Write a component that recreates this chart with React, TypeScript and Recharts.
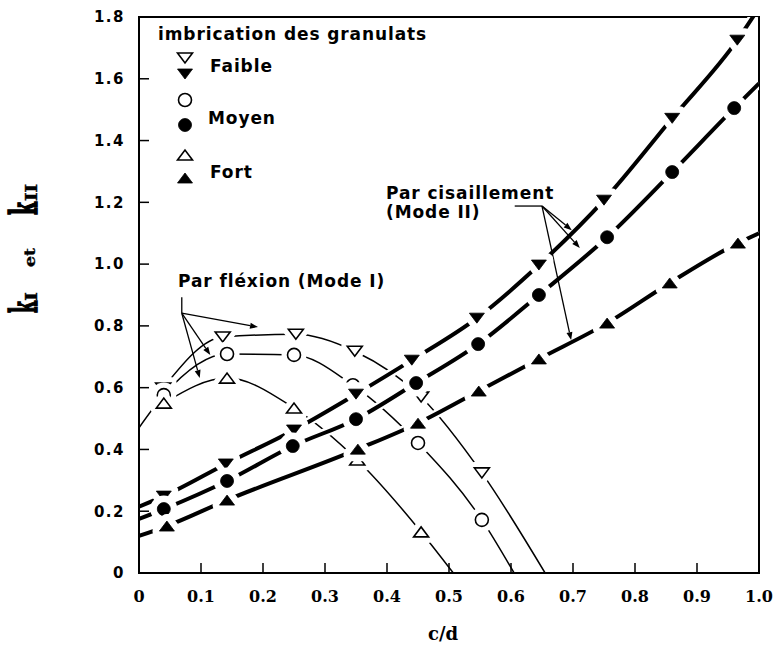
import React from "react";
import {
  ComposedChart,
  Line,
  XAxis,
  YAxis,
  ReferenceArea,
  ReferenceLine,
} from "recharts";

const xTicks = [0, 0.1, 0.2, 0.3, 0.4, 0.5, 0.6, 0.7, 0.8, 0.9, 1.0];
const yTicks = [0, 0.2, 0.4, 0.6, 0.8, 1.0, 1.2, 1.4, 1.6, 1.8];

// Mode II (par cisaillement), filled markers
const faibleIIx = [0.04, 0.14, 0.25, 0.35, 0.44, 0.545, 0.645, 0.75, 0.86, 0.965];
const faibleIIy = [0.249, 0.353, 0.463, 0.579, 0.689, 0.825, 0.997, 1.207, 1.472, 1.725];
const moyenIIx = [0.04, 0.142, 0.248, 0.35, 0.447, 0.547, 0.645, 0.755, 0.86, 0.96];
const moyenIIy = [0.207, 0.298, 0.411, 0.498, 0.615, 0.741, 0.9, 1.087, 1.298, 1.505];
const fortIIx = [0.045, 0.142, 0.353, 0.45, 0.548, 0.645, 0.755, 0.856, 0.966];
const fortIIy = [0.152, 0.236, 0.401, 0.485, 0.589, 0.693, 0.809, 0.939, 1.068];

// where the curves start / stop without a marker
const faibleIIends = [[0, 0.215], [1.0, 1.83]];
const moyenIIends = [[0, 0.175], [1.0, 1.585]];
const fortIIends = [[0, 0.12], [1.0, 1.1]];

// Mode I (par fléxion), open markers
const faibleIx = [0.039, 0.135, 0.253, 0.348, 0.455, 0.553];
const faibleIy = [0.599, 0.764, 0.773, 0.718, 0.57, 0.324];
const moyenIx = [0.04, 0.142, 0.25, 0.345, 0.45, 0.553];
const moyenIy = [0.576, 0.709, 0.706, 0.608, 0.421, 0.172];
const fortIx = [0.04, 0.142, 0.25, 0.352, 0.455];
const fortIy = [0.55, 0.631, 0.534, 0.366, 0.133];

const faibleIends = [null, [0.655, 0]];
const moyenIends = [[0, 0.47], [0.605, 0]];
const fortIends = [null, [0.507, 0]];

// annotation arrows (data coords)
const flexionStem = [[0.069, 0.893], [0.069, 0.841]];
const flexionTargets = [[0.192, 0.796], [0.115, 0.706], [0.098, 0.631]];
const shearBar = [[0.606, 1.188], [0.65, 1.188]];
const shearTargets = [[0.698, 1.11], [0.711, 1.052], [0.697, 0.754]];

const SANS = "DejaVu Sans";
const SERIF = "DejaVu Serif";

function series(xs: number[], ys: number[], ends: any[]) {
  const pts = xs.map((x, i) => ({ x, y: ys[i], m: true }));
  const [a, b] = ends;
  return [
    ...(a ? [{ x: a[0], y: a[1], m: false }] : []),
    ...pts,
    ...(b ? [{ x: b[0], y: b[1], m: false }] : []),
  ];
}

const faibleII = series(faibleIIx, faibleIIy, faibleIIends);
const moyenII = series(moyenIIx, moyenIIy, moyenIIends);
const fortII = series(fortIIx, fortIIy, fortIIends);
const faibleI = series(faibleIx, faibleIy, faibleIends);
const moyenI = series(moyenIx, moyenIy, moyenIends);
const fortI = series(fortIx, fortIy, fortIends);

type Kind = "down" | "up" | "circle";

function markerPath(kind: Kind, cx: number, cy: number) {
  if (kind === "circle") {
    const r = 6.5;
    return `M${cx - r},${cy}a${r},${r} 0 1,0 ${2 * r},0a${r},${r} 0 1,0 ${-2 * r},0Z`;
  }
  if (kind === "down") return `M${cx - 7.5},${cy - 5}L${cx + 7.5},${cy - 5}L${cx},${cy + 5}Z`;
  return `M${cx - 7.5},${cy + 5}L${cx + 7.5},${cy + 5}L${cx},${cy - 5}Z`;
}

function Marker({ kind, filled, cx, cy, halo = 0 }: any) {
  const d = markerPath(kind, cx, cy);
  return (
    <g>
      {halo > 0 && (
        <path d={d} fill="#fff" stroke="#fff" strokeWidth={halo} strokeLinejoin="round" />
      )}
      <path
        d={d}
        fill={filled ? "#000" : "#fff"}
        stroke="#000"
        strokeWidth={filled ? 0.8 : 1.6}
      />
    </g>
  );
}

const dotOf = (kind: Kind, filled: boolean, halo: number) => (p: any) =>
  p.payload && p.payload.m ? (
    <Marker key={`d${p.index}`} kind={kind} filled={filled} cx={p.cx} cy={p.cy} halo={halo} />
  ) : (
    <g key={`d${p.index}`} />
  );

const Arrow = (p: any) => {
  const { x1, y1, x2, y2, head } = p;
  const a = Math.atan2(y2 - y1, x2 - x1);
  const L = 8;
  const W = 3;
  const bx = x2 - L * Math.cos(a);
  const by = y2 - L * Math.sin(a);
  return (
    <g>
      <line x1={x1} y1={y1} x2={head ? bx : x2} y2={head ? by : y2} stroke="#000" strokeWidth={1.3} />
      {head && (
        <polygon
          points={`${x2},${y2} ${bx + W * Math.sin(a)},${by - W * Math.cos(a)} ${bx - W * Math.sin(a)},${by + W * Math.cos(a)}`}
          fill="#000"
        />
      )}
    </g>
  );
};

const fmt = (v: number) => (v === 0 ? "0" : v.toFixed(1));

const txt = { fontFamily: SANS, fontWeight: 700, fontSize: 17, letterSpacing: 0.9, fill: "#000" } as const;

function Overlay() {
  return (
    <svg
      width={773}
      height={650}
      style={{ position: "absolute", left: 0, top: 0, pointerEvents: "none" }}
    >
      <text x={158} y={40} {...txt}>imbrication des granulats</text>
      <Marker kind="down" filled={false} cx={185} cy={58} />
      <Marker kind="down" filled cx={185} cy={74} />
      <text x={210} y={72} {...txt}>Faible</text>
      <Marker kind="circle" filled={false} cx={185} cy={100} />
      <Marker kind="circle" filled cx={185} cy={125} />
      <text x={208} y={124} {...txt}>Moyen</text>
      <Marker kind="up" filled={false} cx={185} cy={155} />
      <Marker kind="up" filled cx={185} cy={178} />
      <text x={210} y={178} {...txt}>Fort</text>

      <text x={178} y={287} {...txt}>Par fléxion (Mode I)</text>
      <text x={386} y={199} {...txt}>Par cisaillement</text>
      <text x={386} y={218} {...txt}>(Mode II)</text>

      <g
        transform="translate(37,0) rotate(-90)"
        fontFamily={SERIF}
        fontWeight={700}
        fill="#000"
        stroke="#000"
      >
        <text x={-313} y={0} fontSize={38} strokeWidth={1.6} textLength={12} lengthAdjust="spacingAndGlyphs">k</text>
        <text x={-301} y={0} fontSize={16} strokeWidth={0.4} textLength={9} lengthAdjust="spacingAndGlyphs">I</text>
        <text x={-267} y={-2} fontSize={15} strokeWidth={0.3} textLength={19} lengthAdjust="spacingAndGlyphs">et</text>
        <text x={-215} y={0} fontSize={38} strokeWidth={1.6} textLength={13} lengthAdjust="spacingAndGlyphs">k</text>
        <text x={-201} y={0} fontSize={16} strokeWidth={0.4} textLength={17} lengthAdjust="spacingAndGlyphs">II</text>
      </g>
      <text x={443} y={640} textAnchor="middle" fontFamily={SERIF} fontWeight={700} fontSize={18}>
        c/d
      </text>
    </svg>
  );
}

export default function App() {
  const seg = (a: number[], b: number[]) => [
    { x: a[0], y: a[1] },
    { x: b[0], y: b[1] },
  ];
  return (
    <div style={{ position: "absolute", left: 0, top: 0, width: 773, height: 650, background: "#fff" }}>
      <ComposedChart
        width={773}
        height={650}
        margin={{ top: 17, right: 14, bottom: 37, left: 79 }}
      >
        <XAxis
          type="number"
          dataKey="x"
          domain={[0, 1]}
          ticks={xTicks}
          tickFormatter={fmt}
          allowDataOverflow
          height={40}
          tickSize={-10}
          tickMargin={28}
          axisLine={{ stroke: "#000", strokeWidth: 2 }}
          tickLine={{ stroke: "#000", strokeWidth: 1.5 }}
          tick={{ fill: "#000", fontSize: 16, fontWeight: 700, fontFamily: SERIF }}
        />
        <YAxis
          type="number"
          dataKey="y"
          domain={[0, 1.8]}
          ticks={yTicks}
          tickFormatter={fmt}
          allowDataOverflow
          width={60}
          tickSize={-10}
          tickMargin={24}
          axisLine={{ stroke: "#000", strokeWidth: 2 }}
          tickLine={{ stroke: "#000", strokeWidth: 1.5 }}
          tick={{ fill: "#000", fontSize: 15, fontWeight: 700, fontFamily: SANS, letterSpacing: 1.5 }}
        />
        <ReferenceArea x1={0} x2={1} y1={0} y2={1.8} fill="none" stroke="#000" strokeWidth={2} />

        {[faibleI, moyenI, fortI].map((d, i) => (
          <Line
            key={`m1-${i}`}
            data={d}
            dataKey="y"
            type="monotone"
            stroke="#000"
            strokeWidth={1.5}
            dot={dotOf(i === 0 ? "down" : i === 1 ? "circle" : "up", false, 12)}
            activeDot={false}
            isAnimationActive={false}
          />
        ))}

        {[faibleII, moyenII, fortII].map((d, i) => (
          <Line
            key={`h2-${i}`}
            data={d}
            dataKey="y"
            type="monotone"
            stroke="#fff"
            strokeWidth={9}
            dot={false}
            activeDot={false}
            isAnimationActive={false}
          />
        ))}
        {[faibleII, moyenII, fortII].map((d, i) => (
          <Line
            key={`m2-${i}`}
            data={d}
            dataKey="y"
            type="monotone"
            stroke="#000"
            strokeWidth={4}
            dot={dotOf(i === 0 ? "down" : i === 1 ? "circle" : "up", true, 14)}
            activeDot={false}
            isAnimationActive={false}
          />
        ))}

        <ReferenceLine segment={seg(flexionStem[0], flexionStem[1])} shape={(p: any) => <Arrow {...p} />} />
        {flexionTargets.map((t, i) => (
          <ReferenceLine
            key={`fa${i}`}
            segment={seg(flexionStem[1], t)}
            shape={(p: any) => <Arrow {...p} head />}
          />
        ))}
        <ReferenceLine segment={seg(shearBar[0], shearBar[1])} shape={(p: any) => <Arrow {...p} />} />
        {shearTargets.map((t, i) => (
          <ReferenceLine
            key={`sa${i}`}
            segment={seg(shearBar[1], t)}
            shape={(p: any) => <Arrow {...p} head />}
          />
        ))}
      </ComposedChart>
      <Overlay />
    </div>
  );
}
